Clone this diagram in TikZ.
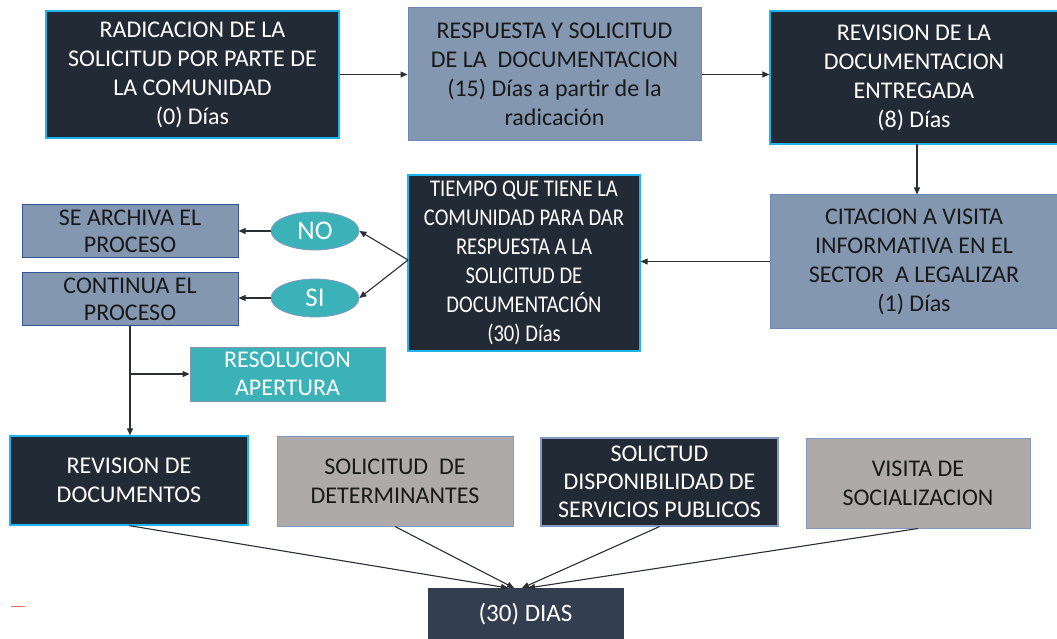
\documentclass[tikz,border=0pt]{standalone}
\usepackage{fontspec}
\setmainfont{Carlito}
\newfontfamily\condensedfont[FakeStretch=0.86]{Carlito}
\usetikzlibrary{arrows.meta,shapes.geometric}
\definecolor{darkfill}{HTML}{222A35}
\definecolor{lightblue}{HTML}{1EB4F0}
\definecolor{slate}{HTML}{8497B0}
\definecolor{slateborder}{HTML}{2F5597}
\definecolor{tealfill}{HTML}{3BB2B8}
\definecolor{grayfill}{HTML}{AEAAAA}
\definecolor{navyfill}{HTML}{333F50}
\definecolor{linecol}{HTML}{2B2E33}
\tikzset{
  base/.style={inner sep=0pt, align=center, font=\fontsize{24}{29}\selectfont},
  darkbox/.style={base, fill=darkfill, draw=lightblue, line width=1.2pt, text=white},
  slatebox/.style={base, fill=slate, draw=slateborder!70, line width=1pt, text=black!90},
  graybox/.style={base, fill=grayfill, draw=slateborder!60, line width=1pt, text=black!90},
  tealbox/.style={base, fill=tealfill, draw=slate, line width=0.8pt, text=white},
  tealell/.style={base, ellipse, fill=tealfill, draw=slateborder!60, line width=0.8pt, text=white, minimum width=88pt, minimum height=38pt, font=\fontsize{27}{29}\selectfont},
  navybox/.style={base, fill=navyfill, draw=navyfill, text=white},
  conn/.style={draw=linecol, line width=1.1pt, -{Triangle[length=7pt,width=6pt]}},
  plain/.style={draw=linecol, line width=1.1pt}
}
\begin{document}
\begin{tikzpicture}[x=1pt,y=-1pt]
\useasboundingbox (0,0) rectangle (1057,639);
% top row
\node[darkbox, minimum width=293pt, minimum height=127pt] (rad) at (192.5,74.5)
  {RADICACION DE LA\\SOLICITUD POR PARTE DE\\LA COMUNIDAD\\(0) Días};
\node[slatebox, minimum width=293pt, minimum height=133pt] (resp) at (554.5,74.5)
  {RESPUESTA Y SOLICITUD\\DE LA\ \ DOCUMENTACION\\(15) Días a partir de la\\radicación};
\node[darkbox, minimum width=288pt, minimum height=133pt] (rev) at (914,77.5)
  {REVISION DE LA\\DOCUMENTACION\\ENTREGADA\\(8) Días};
% second row
\node[slatebox, minimum width=288pt, minimum height=133pt] (cit) at (914,261.5)
  {CITACION A VISITA\\INFORMATIVA EN EL\\SECTOR\ \ A LEGALIZAR\\(1) Días};
\node[darkbox, font=\condensedfont\fontsize{24}{29}\selectfont, minimum width=232pt, minimum height=176pt] (tiempo) at (524,263)
  {TIEMPO QUE TIENE LA\\COMUNIDAD PARA DAR\\RESPUESTA A LA\\SOLICITUD DE\\DOCUMENTACIÓN\\(30) Días};
\node[tealell] (no) at (315,231) {NO};
\node[tealell] (si) at (315,298) {SI};
\node[slatebox, draw=slateborder, font=\fontsize{24}{27}\selectfont, minimum width=216pt, minimum height=53pt] (arch) at (130,231)
  {SE ARCHIVA EL\\PROCESO};
\node[slatebox, draw=slateborder, font=\fontsize{24}{27}\selectfont, minimum width=216pt, minimum height=53pt] (cont) at (130,299)
  {CONTINUA EL\\PROCESO};
\node[tealbox, font=\fontsize{24}{28}\selectfont, minimum width=195pt, minimum height=54pt] (resol) at (287.5,374)
  {RESOLUCION\\APERTURA};
% bottom row
\node[darkbox, font=\fontsize{24}{29}\selectfont, minimum width=238pt, minimum height=89pt] (revdoc) at (129,480.5)
  {REVISION DE\\DOCUMENTOS};
\node[graybox, font=\fontsize{24}{29}\selectfont, minimum width=236pt, minimum height=90pt] (det) at (395,481)
  {SOLICITUD\ \ DE\\DETERMINANTES};
\node[darkbox, draw=slateborder!60, font=\fontsize{24}{28}\selectfont, minimum width=237pt, minimum height=88pt] (disp) at (659.5,482)
  {SOLICTUD\\DISPONIBILIDAD DE\\SERVICIOS PUBLICOS};
\node[graybox, font=\fontsize{24}{29}\selectfont, minimum width=224pt, minimum height=90pt] (visita) at (918,483)
  {VISITA DE\\SOCIALIZACION};
\node[navybox, font=\fontsize{25}{29}\selectfont, minimum width=195pt, minimum height=52pt] (dias) at (525.5,614)
  {(30) DIAS};
% connectors
\draw[conn] (rad.east) -- (resp.west);
\draw[conn] (resp.east) -- (rev.west |- resp.east);
\draw[conn] (917,144) -- (cit.north -| 917,0);
\draw[conn] (cit.west) -- (tiempo.east |- cit.west);
\coordinate (tl) at (408,260);
\draw[conn] (tl) -- (no.east);
\draw[conn] (tl) -- (si.east);
\draw[conn] (no.west) -- (arch.east |- no.west);
\draw[conn] (si.west) -- (cont.east |- si.west);
\coordinate (br) at (cont.south |- resol.west);
\draw[conn] (cont.south) -- (revdoc.north -| cont.south);
\draw[conn] (br) -- (resol.west);
\coordinate (d1) at (508,588);
\coordinate (d2) at (514,588);
\coordinate (d3) at (522,588);
\coordinate (d4) at (528,588);
\draw[conn] (revdoc.south) -- (d1);
\draw[conn] (det.south) -- (d2);
\draw[conn] (disp.south) -- (d3);
\draw[conn] (visita.south) -- (d4);
% small red mark
\draw[red!60, line width=1pt] (11,606) -- (25,606);
\end{tikzpicture}
\end{document}
